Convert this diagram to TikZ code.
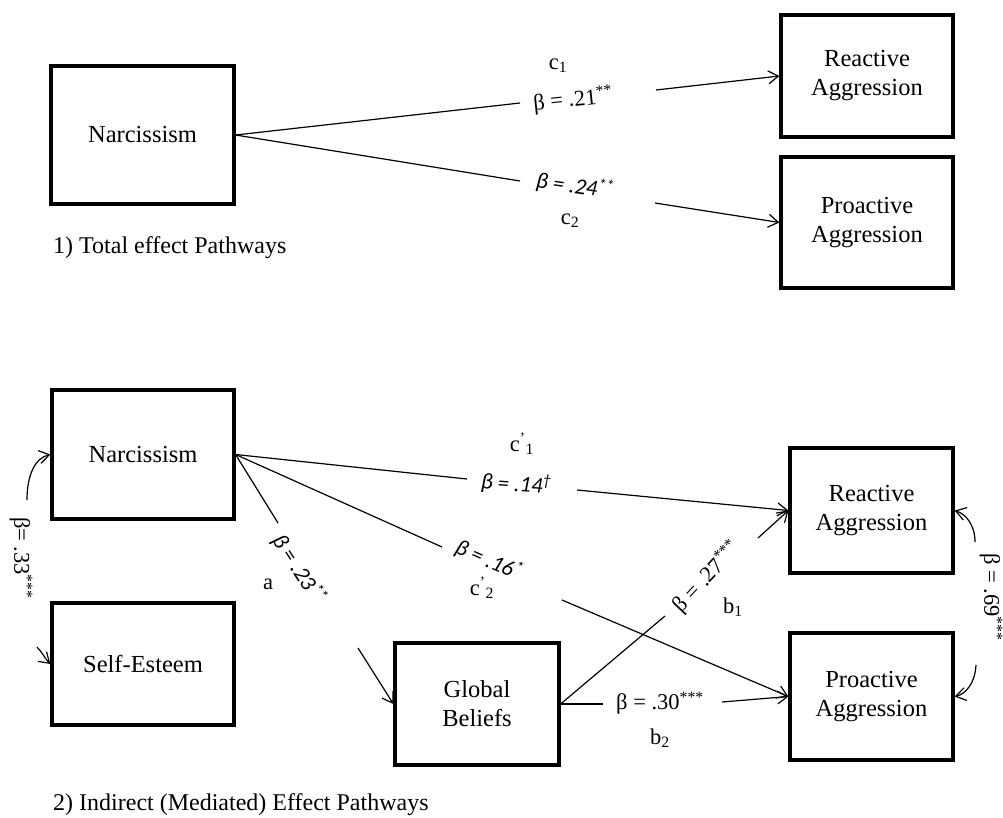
\documentclass[tikz,border=0pt]{standalone}
\usepackage{fontspec}
\setmainfont{Liberation Serif}
\newfontfamily\calib{Carlito}
\usetikzlibrary{arrows.meta}
\tikzset{
  box/.style 2 args={draw, line width=3.2pt, minimum width=#1pt, minimum height=#2pt,
    inner sep=0pt, align=center, font=\fontsize{24.5}{29}\selectfont},
  lab/.style={inner sep=0.5pt, font=\fontsize{22.5}{25}\selectfont},
  ilab/.style={inner sep=0.5pt, font=\fontsize{22.5}{25}\selectfont\calib\itshape},
  captxt/.style={inner sep=0pt, anchor=west, font=\fontsize{24}{28}\selectfont},
  conn/.style={line width=1.2pt},
  arr/.style={-{Straight Barb[length=10pt,width=13pt]}}
}
\begin{document}
\begin{tikzpicture}[x=1pt,y=-1pt]
\fill[white] (0,0) rectangle (1003,817);
\useasboundingbox (0,0) rectangle (1003,817);

% ---------- Part 1 ----------
\node[box={183}{138}] (narcT) at (142.5,135) {Narcissism};
\node[box={172}{122}] (reactT) at (867,76) {Reactive\\Aggression};
\node[box={172}{131}] (proT) at (867,222.5) {Proactive\\Aggression};
\node[captxt] (cap1) at (53,248) {1) Total effect Pathways};

\node[lab, rotate=6] (l21) at (573,100) {β = .21\textsuperscript{**}};
\node[lab] (c1) at (558,66) {c\textsubscript{1}};
\node[ilab, rotate=-8] (l24) at (575,186) {β = .24\textsuperscript{**}};
\node[lab] (c2) at (570,221) {c\textsubscript{2}};

\coordinate (g1a) at (520,103); \coordinate (g1b) at (656,90);
\coordinate (g2a) at (520,181); \coordinate (g2b) at (655,203);
\draw[conn] (narcT.east) -- (g1a);
\draw[conn,arr] (g1b) -- (reactT.west);
\draw[conn] (narcT.east) -- (g2a);
\draw[conn,arr] (g2b) -- (proT.west);

% ---------- Part 2 ----------
\node[box={182}{129}] (narcB) at (143,454.5) {Narcissism};
\node[box={182}{122}] (selfB) at (143,664) {Self-Esteem};
\node[box={164}{122}] (globB) at (477,704) {Global\\Beliefs};
\node[box={163}{125}] (reactB) at (871.5,510.5) {Reactive\\Aggression};
\node[box={163}{127}] (proB) at (871.5,696.5) {Proactive\\Aggression};
\node[captxt] (cap2) at (53,805) {2) Indirect (Mediated) Effect Pathways};

% labels
\node[ilab, rotate=-4] (l14) at (516,484) {β = .14\textsuperscript{†}};
\node[lab] (cp1) at (522,444) {c\textsuperscript{’}\textsubscript{1}};
\node[ilab, rotate=-24] (l16) at (489,560) {β = .16\textsuperscript{*}};
\node[lab] (cp2) at (482,588) {c\textsuperscript{’}\textsubscript{2}};
\node[ilab, rotate=-57] (l23) at (299,569) {β = .23\textsuperscript{**}};
\node[lab] (la) at (268,584) {a};
\node[lab, rotate=47] (l27) at (707,577) {β = .27\textsuperscript{***}};
\node[lab] (lb1) at (733,607) {b\textsubscript{1}};
\node[lab] (l30) at (660,703) {β = .30\textsuperscript{***}};
\node[lab] (lb2) at (660,738) {b\textsubscript{2}};
\node[lab, rotate=-90] (l33) at (21,558) {β= .33\textsuperscript{***}};
\node[lab, rotate=-90] (l69) at (991,597) {β = .69\textsuperscript{***}};

% connector gaps
\coordinate (h1a) at (467,479); \coordinate (h1b) at (577,490);
\coordinate (h2a) at (442,547); \coordinate (h2b) at (562,600);
\coordinate (ha) at (278,523);  \coordinate (hb) at (358,648);
\coordinate (k1a) at (665,616); \coordinate (k1b) at (758,538);
\coordinate (k2a) at (603,704); \coordinate (k2b) at (722,702);

\draw[conn] (narcB.east) -- (h1a);
\draw[conn,arr] (h1b) -- (reactB.west);
\draw[conn] (narcB.east) -- (h2a);
\draw[conn,arr] (h2b) -- (proB.west);
\draw[conn] (narcB.east) -- (ha);
\draw[conn,arr] (hb) -- (globB.west);
\draw[conn] (globB.east) -- (k1a);
\draw[conn,arr] (k1b) -- (reactB.west);
\draw[conn] (globB.east) -- (k2a);
\draw[conn,arr] (k2b) -- (proB.west);

% curved correlation arrows
\coordinate (s1) at (27,500); \coordinate (s2) at (37,647);
\coordinate (r1) at (975,542); \coordinate (r2) at (976,665);
\draw[conn,arr] (s1) .. controls (27,475) and (35,458) .. (narcB.west);
\draw[conn,arr] (s2) .. controls (42,652) and (46,660) .. (selfB.west);
\draw[conn,arr] (r1) .. controls (975,525) and (966,514) .. (reactB.east);
\draw[conn,arr] (r2) .. controls (975,683) and (966,694) .. (proB.east);
\end{tikzpicture}
\end{document}
